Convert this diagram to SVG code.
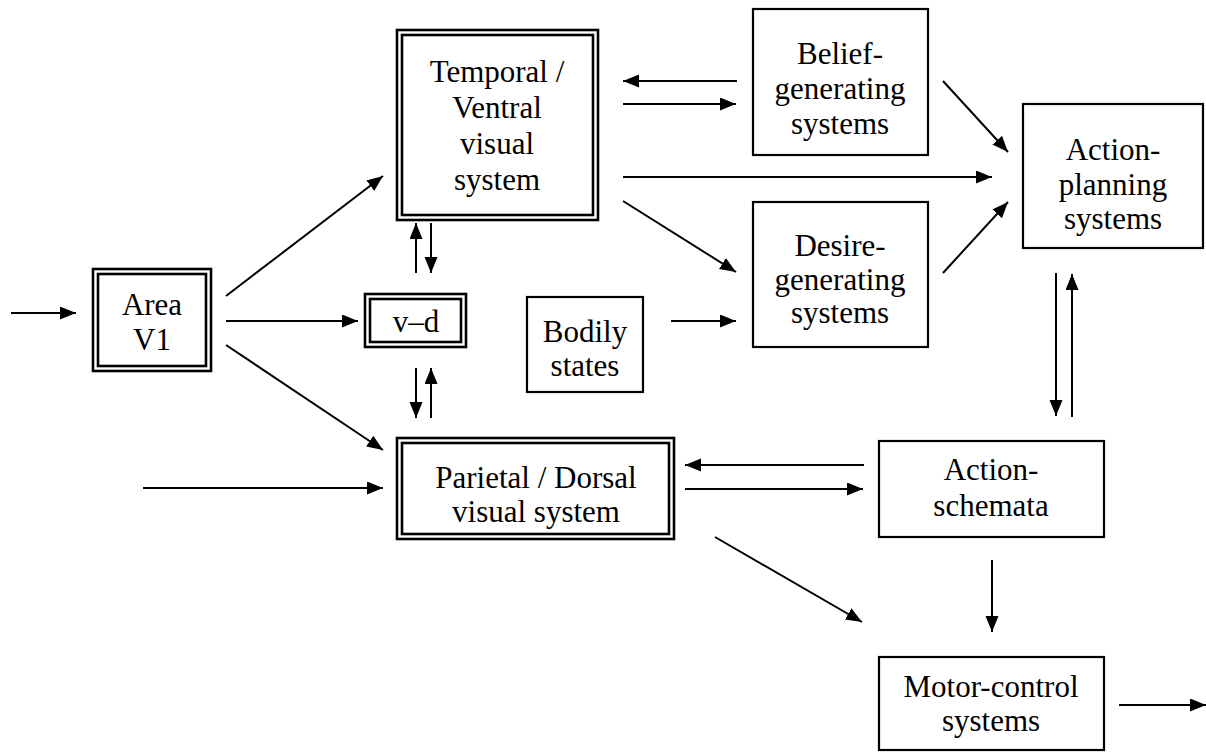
<svg xmlns="http://www.w3.org/2000/svg" width="1206" height="753" viewBox="0 0 1206 753">
<style>
.box{fill:#fff;stroke:#000;stroke-width:2.2}
.dbl{fill:none;stroke:#000;stroke-width:2.6}
.t{font-family:"Liberation Serif","Times New Roman",serif;font-size:31px;text-anchor:middle;fill:#000}
.c line{stroke:#000;stroke-width:2;marker-end:url(#ah)}
</style>
<defs>
<marker id="ah" markerUnits="userSpaceOnUse" markerWidth="17" markerHeight="14" refX="16" refY="6.5" orient="auto">
<path d="M0,0 L16,6.5 L0,13 z" fill="#000"/>
</marker>
</defs>
<rect width="1206" height="753" fill="#fff"/>
<g id="areaV1">
<rect class="dbl" x="93" y="269" width="118" height="102"/>
<rect class="dbl" x="98" y="274" width="108" height="92"/>
<text class="t" x="152" y="315">Area</text>
<text class="t" x="152" y="350">V1</text>
</g>
<g id="temporal">
<rect class="dbl" x="397" y="30" width="201" height="190"/>
<rect class="dbl" x="402" y="35" width="191" height="180"/>
<text class="t" x="497" y="82">Temporal /</text>
<text class="t" x="497" y="118">Ventral</text>
<text class="t" x="497" y="154">visual</text>
<text class="t" x="497" y="190">system</text>
</g>
<g id="vd">
<rect class="dbl" x="365" y="294" width="101" height="53"/>
<rect class="dbl" x="370" y="299" width="91" height="43"/>
<text class="t" x="416" y="332">v–d</text>
</g>
<g id="parietal">
<rect class="dbl" x="397" y="438" width="277" height="101"/>
<rect class="dbl" x="402" y="443" width="267" height="91"/>
<text class="t" x="536" y="488">Parietal / Dorsal</text>
<text class="t" x="536" y="522">visual system</text>
</g>
<g id="belief">
<rect class="box" x="753" y="9" width="175" height="146"/>
<text class="t" x="840" y="64">Belief-</text>
<text class="t" x="840" y="99">generating</text>
<text class="t" x="840" y="134">systems</text>
</g>
<g id="desire">
<rect class="box" x="753" y="202" width="175" height="145"/>
<text class="t" x="840" y="256">Desire-</text>
<text class="t" x="840" y="290">generating</text>
<text class="t" x="840" y="323">systems</text>
</g>
<g id="bodily">
<rect class="box" x="527" y="297" width="116" height="95"/>
<text class="t" x="585" y="342">Bodily</text>
<text class="t" x="585" y="376">states</text>
</g>
<g id="actionPlanning">
<rect class="box" x="1023" y="104" width="180" height="144"/>
<text class="t" x="1113" y="160">Action-</text>
<text class="t" x="1113" y="195">planning</text>
<text class="t" x="1113" y="229">systems</text>
</g>
<g id="actionSchemata">
<rect class="box" x="879" y="441" width="225" height="96"/>
<text class="t" x="991" y="480">Action-</text>
<text class="t" x="991" y="516">schemata</text>
</g>
<g id="motorControl">
<rect class="box" x="879" y="657" width="225" height="93"/>
<text class="t" x="991" y="697">Motor-control</text>
<text class="t" x="991" y="731">systems</text>
</g>
<g id="connectors" class="c">
<line x1="11" y1="313" x2="76" y2="313"/>
<line x1="226" y1="296" x2="383" y2="176"/>
<line x1="226" y1="321" x2="358" y2="321"/>
<line x1="226" y1="345" x2="383" y2="450"/>
<line x1="143" y1="488" x2="383" y2="488"/>
<line x1="416" y1="273" x2="416" y2="223"/>
<line x1="431" y1="223" x2="431" y2="273"/>
<line x1="416" y1="368" x2="416" y2="418"/>
<line x1="431" y1="418" x2="431" y2="368"/>
<line x1="737" y1="81" x2="623" y2="81"/>
<line x1="623" y1="104" x2="736" y2="104"/>
<line x1="623" y1="177" x2="992" y2="177"/>
<line x1="623" y1="201" x2="736" y2="272"/>
<line x1="671" y1="321" x2="736" y2="321"/>
<line x1="943" y1="81" x2="1008" y2="152"/>
<line x1="943" y1="273" x2="1008" y2="202"/>
<line x1="1056" y1="273" x2="1056" y2="416"/>
<line x1="1072" y1="417" x2="1072" y2="274"/>
<line x1="864" y1="465" x2="685" y2="465"/>
<line x1="685" y1="489" x2="863" y2="489"/>
<line x1="992" y1="560" x2="992" y2="632"/>
<line x1="715" y1="537" x2="862" y2="622"/>
<line x1="1119" y1="705" x2="1206" y2="705"/>
</g>
</svg>
